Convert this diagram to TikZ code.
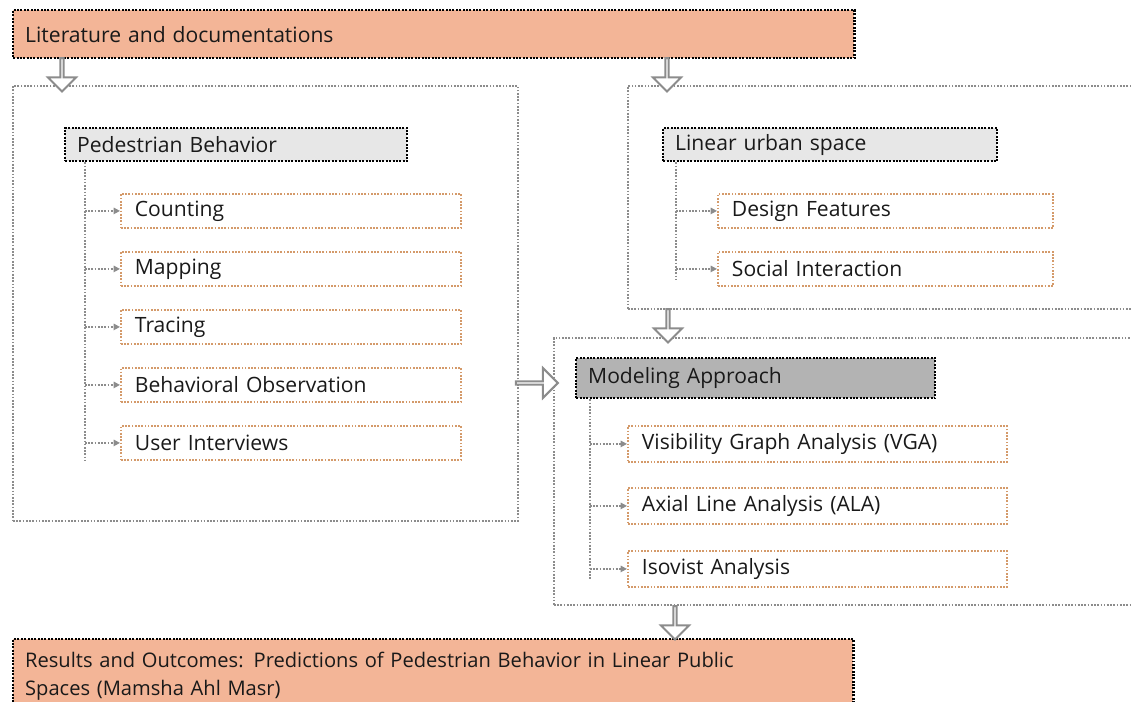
\documentclass[tikz,border=0pt]{standalone}
\usepackage{fontspec}
\setmainfont{Open Sans}
\usepackage{xcolor}
\usetikzlibrary{arrows.meta, positioning, shapes.arrows}

\definecolor{salmon}{HTML}{F3B597}
\definecolor{lightgrey}{HTML}{E7E7E7}
\definecolor{midgrey}{HTML}{B3B3B3}
\definecolor{dotgrey}{HTML}{8C8C8C}
\definecolor{dotorange}{HTML}{D49A6A}

\begin{document}
\begin{tikzpicture}[x=0.025cm, y=-0.025cm,
    every node/.style={font=\fontsize{15}{18}\selectfont, text=black!90},
    blackdots/.style={draw=black, line width=1.7pt, dash pattern=on 1.4pt off 1pt},
    greydots/.style={draw=dotgrey, line width=1.3pt, dash pattern=on 1.2pt off 1.1pt},
    banner/.style={blackdots, fill=salmon, anchor=north west, inner xsep=0.3cm,
        inner ysep=0pt, align=left},
    head/.style={blackdots, fill=lightgrey, anchor=north west, inner xsep=0.3cm,
        inner ysep=0pt, align=left, minimum height=0.825cm},
    item/.style={draw=dotorange, line width=1.3pt, dash pattern=on 1.2pt off 1.1pt,
        anchor=north west, inner xsep=0.35cm, inner ysep=0pt, align=left,
        minimum height=0.85cm},
    frame/.style={greydots, anchor=north west, inner sep=0pt},
    hollow/.style={single arrow, draw=dotgrey, fill=white, line width=1.4pt,
        inner sep=0pt, minimum width=0.7cm, single arrow head extend=0.19cm,
        minimum height=0.83cm},
    link/.style={greydots, -{Triangle[length=4.5pt, width=4.5pt]}, dotgrey}
  ]
  \useasboundingbox (0,0) rectangle (1131,702);

  % Frames
  \node (frameL) [frame, minimum width=12.625cm, minimum height=10.875cm] at (12,85) {};
  \node (frameR) [frame, minimum width=13.325cm, minimum height=5.575cm] at (627,85) {};
  \node (frameM) [frame, minimum width=15.175cm, minimum height=6.675cm] at (553,337) {};

  % Banners
  \node (lit) [banner, text width=20.425cm, minimum height=1.2cm] at (12,9)
    {Literature and documentations};
  \node (res) [banner, text width=20.4cm, minimum height=1.85cm,
    font=\fontsize{14.3}{19.3}\selectfont] at (12,638)
    {Results and Outcomes: Predictions of Pedestrian Behavior in Linear Public\\
     Spaces (Mamsha Ahl Masr)};

  % Pedestrian behavior
  \node (ped) [head, text width=7.95cm] at (64,127) {Pedestrian Behavior};
  \node (count) [item, text width=7.8cm] at (120,193) {Counting};
  \node (map) [item, text width=7.8cm] at (120,251) {Mapping};
  \node (trace) [item, text width=7.8cm] at (120,309) {Tracing};
  \node (obs) [item, text width=7.8cm] at (120,367) {Behavioral Observation};
  \node (inter) [item, text width=7.8cm] at (120,425) {User Interviews};

  % Linear urban space
  \node (lin) [head, text width=7.75cm] at (662,127) {Linear urban space};
  \node (design) [item, text width=7.675cm] at (717,193) {Design Features};
  \node (social) [item, text width=7.675cm] at (717,251) {Social Interaction};

  % Modeling approach
  \node (model) [head, fill=midgrey, text width=8.375cm, minimum height=1cm] at (575,357)
    {Modeling Approach};
  \node (vga) [item, text width=8.775cm, minimum height=0.9cm] at (627,425)
    {Visibility Graph Analysis (VGA)};
  \node (ala) [item, text width=8.775cm, minimum height=0.9cm] at (627,487)
    {Axial Line Analysis (ALA)};
  \node (iso) [item, text width=8.775cm, minimum height=0.9cm] at (627,550)
    {Isovist Analysis};

  % Spines
  \coordinate (spineL) at (85,460);
  \coordinate (spineR) at (676,280);
  \coordinate (spineM) at (590,580);
  \draw[greydots] (ped.south west -| spineL) -- (spineL);
  \draw[greydots] (lin.south west -| spineR) -- (spineR);
  \draw[greydots] (model.south west -| spineM) -- (spineM);

  \foreach \n in {count, map, trace, obs, inter}
    \draw[link] (spineL |- \n.west) -- (\n.west);
  \foreach \n in {design, social}
    \draw[link] (spineR |- \n.west) -- (\n.west);
  \foreach \n in {vga, ala, iso}
    \draw[link] (spineM |- \n.west) -- (\n.west);

  % Hollow arrows
  \node (arrA) [hollow, rotate=-90] at (62,74) {};
  \node (arrB) [hollow, rotate=-90] at (667,74) {};
  \node (arrC) [hollow, rotate=-90] at (668,325) {};
  \node (arrD) [hollow, rotate=-90] at (675,622) {};
  \node (arrE) [hollow, minimum height=1.05cm, minimum width=0.75cm] at (536,383) {};

\end{tikzpicture}
\end{document}
